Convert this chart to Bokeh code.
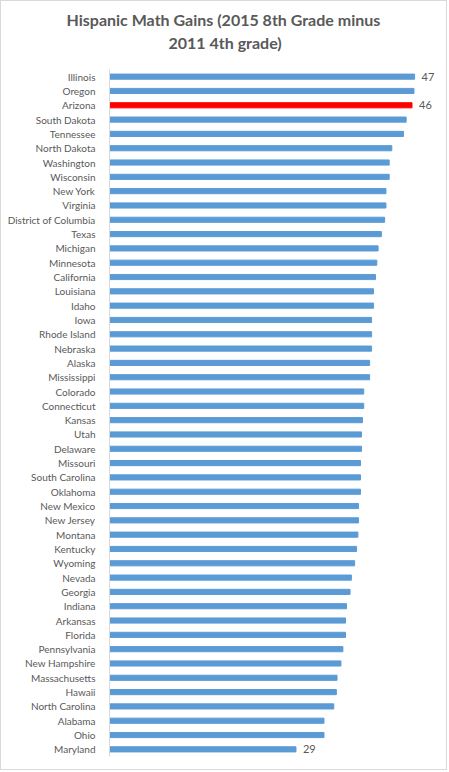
from bokeh.plotting import figure
from bokeh.models import FactorRange, Range1d, ColumnDataSource, Title
from bokeh.core.properties import value
from bokeh.embed import file_html
from bokeh.resources import INLINE

states = ["Illinois", "Oregon", "Arizona", "South Dakota", "Tennessee", "North Dakota",
          "Washington", "Wisconsin", "New York", "Virginia", "District of Columbia", "Texas",
          "Michigan", "Minnesota", "California", "Louisiana", "Idaho", "Iowa", "Rhode Island",
          "Nebraska", "Alaska", "Mississippi", "Colorado", "Connecticut", "Kansas", "Utah",
          "Delaware", "Missouri", "South Carolina", "Oklahoma", "New Mexico", "New Jersey",
          "Montana", "Kentucky", "Wyoming", "Nevada", "Georgia", "Indiana", "Arkansas",
          "Florida", "Pennsylvania", "New Hampshire", "Massachusetts", "Hawaii",
          "North Carolina", "Alabama", "Ohio", "Maryland"]
gains = [46.8, 46.7, 46.4, 45.5, 45.1, 43.3, 42.9, 42.9, 42.4, 42.4, 42.2, 41.7,
         41.2, 41.0, 40.8, 40.5, 40.5, 40.2, 40.2, 40.2, 39.9, 39.9, 39.0, 39.0,
         38.8, 38.65, 38.65, 38.5, 38.5, 38.5, 38.2, 38.2, 38.1, 37.9, 37.6, 37.1,
         36.9, 36.35, 36.2, 36.2, 35.8, 35.5, 34.9, 34.8, 34.4, 32.9, 32.9, 28.6]
highlight = "Arizona"
labeled = ["Illinois", "Arizona", "Maryland"]
title_lines = ["Hispanic Math Gains (2015 8th Grade minus", "2011 4th grade)"]

BLUE = "#5B9BD5"
RED = "#FF0000"
GRAY = "#595959"

colors = [RED if s == highlight else BLUE for s in states]
src = ColumnDataSource(dict(state=states, gain=gains, color=colors))

lab_states = [s for s in states if s in labeled]
lab_vals = [g for s, g in zip(states, gains) if s in labeled]
lab_src = ColumnDataSource(dict(state=lab_states, gain=lab_vals,
                                txt=[str(int(v + 0.5)) for v in lab_vals]))

p = figure(width=447, height=770, output_backend="svg", toolbar_location=None,
           y_range=FactorRange(factors=list(reversed(states)), range_padding=0),
           x_range=Range1d(0, 50.77),
           min_border_left=108, min_border_right=8, min_border_top=68, min_border_bottom=15)

p.hbar(y="state", right="gain", left=0, height=0.36, color="color", source=src)
p.text(x="gain", y="state", text="txt", source=lab_src, x_offset=7,
       text_baseline="middle", text_align="left", text_font=value("Lato"),
       text_font_size="11px", text_color=GRAY)

p.xaxis.visible = False
p.xgrid.visible = False
p.ygrid.visible = False
p.outline_line_color = None
p.yaxis.axis_line_color = "#D9D9D9"
p.yaxis.major_tick_line_color = None
p.yaxis.minor_tick_line_color = None
p.yaxis.major_label_text_font = "Lato"
p.yaxis.major_label_text_font_size = "10px"
p.yaxis.major_label_text_color = GRAY
p.yaxis.major_label_standoff = 8

# second line first (closest to the frame), then first line above it
for line, so, off in zip(reversed(title_lines), [35, -31], [59, -43]):
    p.add_layout(Title(text=line, align="left", offset=off, text_font="Lato",
                       text_font_style="bold", text_font_size="16px",
                       text_color=GRAY, standoff=so), "above")

p.styles = {"border": "1px solid #D9D9D9"}

open("out.html", "w").write(file_html(p, INLINE))
